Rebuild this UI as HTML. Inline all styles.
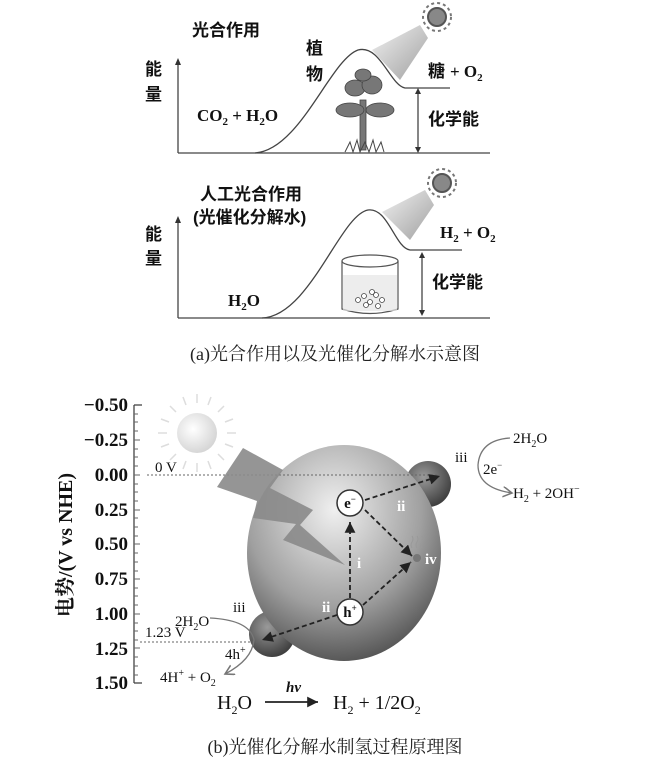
<!DOCTYPE html>
<html><head><meta charset="utf-8"><style>
body{margin:0;background:#fff;}
svg{display:block;font-family:"Liberation Serif","Noto Serif CJK SC",serif;}
.cj{font-family:"Liberation Sans","Noto Sans CJK SC",sans-serif;font-weight:bold;}
</style></head><body>
<svg width="670" height="774" viewBox="0 0 670 774">
<defs>
<radialGradient id="big" cx="0.45" cy="0.3" r="0.75"><stop offset="0" stop-color="#f0f0f0"/><stop offset="0.6" stop-color="#a0a0a0"/><stop offset="1" stop-color="#4a4a4a"/></radialGradient>
<radialGradient id="sm" cx="0.4" cy="0.35" r="0.7"><stop offset="0" stop-color="#9a9a9a"/><stop offset="1" stop-color="#3a3a3a"/></radialGradient>
<radialGradient id="sun" cx="0.4" cy="0.4" r="0.7"><stop offset="0" stop-color="#fff"/><stop offset="1" stop-color="#d0d0d0"/></radialGradient>
<linearGradient id="beam" x1="0" y1="0" x2="1" y2="1"><stop offset="0" stop-color="#eee"/><stop offset="1" stop-color="#888"/></linearGradient>
<marker id="ah" markerWidth="8" markerHeight="8" refX="6" refY="3" orient="auto"><path d="M0,0 L6,3 L0,6 Z" fill="#222"/></marker>
<marker id="ag" markerWidth="10" markerHeight="10" refX="7" refY="4" orient="auto"><path d="M0,0 L7,4 L0,8" fill="none" stroke="#777" stroke-width="1.2"/></marker>
</defs>

<g stroke="#444" fill="none" stroke-width="1.3">
<line x1="178" y1="153" x2="490" y2="153"/>
<line x1="178" y1="153" x2="178" y2="64"/>
<path d="M255,153 C300,150 330,60 358,50 C380,44 390,85 405,88 L450,88"/>
<line x1="418" y1="92" x2="418" y2="149"/>
<line x1="178" y1="318" x2="490" y2="318"/>
<line x1="178" y1="318" x2="178" y2="222"/>
<path d="M262,318 C310,316 340,215 368,210 C388,207 395,248 410,250 L462,250"/>
<line x1="422" y1="256" x2="422" y2="312"/>
</g>
<g fill="#333">
<path d="M178,58 l-3,7 h6z"/><path d="M178,216 l-3,7 h6z"/>
<path d="M418,88 l-3,6 h6z"/><path d="M418,153 l-3,-6 h6z"/>
<path d="M422,252 l-3,6 h6z"/><path d="M422,316 l-3,-6 h6z"/>
</g>
<g stroke="#555" stroke-width="2">
<circle cx="437" cy="17" r="9" fill="#888"/>
<circle cx="442" cy="183" r="9" fill="#888"/>
</g>
<g stroke="#777" stroke-width="2" stroke-dasharray="3 3" fill="none">
<circle cx="437" cy="17" r="14"/><circle cx="442" cy="183" r="14"/>
</g>
<polygon points="372,50 420,25 428,38 400,80" fill="url(#beam)" opacity="0.8"/>
<polygon points="382,212 425,190 434,205 410,240" fill="url(#beam)" opacity="0.8"/>
<g fill="#777" stroke="#444" stroke-width="0.8">
<rect x="360" y="100" width="6" height="50"/>
<ellipse cx="350" cy="110" rx="14" ry="7"/><ellipse cx="380" cy="110" rx="14" ry="7"/>
<ellipse cx="355" cy="88" rx="10" ry="8"/><ellipse cx="372" cy="85" rx="10" ry="9"/>
<ellipse cx="363" cy="75" rx="8" ry="6"/>
</g>
<path d="M345,152 l5,-10 l3,10 l4,-12 l3,12 l5,-10 l4,10 l4,-12 l3,12 l5,-10 l3,10" stroke="#444" fill="none"/>
<g stroke="#555" fill="none" stroke-width="1.2">
<ellipse cx="370" cy="261" rx="28" ry="6"/>
<path d="M342,261 V309 Q370,318 398,309 V261"/>
</g>
<rect x="343" y="275" width="54" height="36" fill="#e6e6e6" opacity="0.7"/>
<g fill="#fff" stroke="#444" stroke-width="0.8">
<circle cx="358" cy="300" r="2.5"/><circle cx="364" cy="296" r="2.5"/><circle cx="370" cy="302" r="2.5"/><circle cx="376" cy="295" r="2.5"/><circle cx="382" cy="300" r="2.5"/><circle cx="366" cy="305" r="2.5"/><circle cx="378" cy="306" r="2.5"/><circle cx="372" cy="292" r="2.5"/>
</g>
<g font-size="17" class="cj" fill="#111">
<text x="192" y="36">光合作用</text>
<text x="306" y="54">植</text><text x="306" y="80">物</text>
<text x="145" y="75">能</text><text x="145" y="100">量</text>
<text x="428" y="125">化学能</text>
<text x="428" y="77">糖</text>
<text x="200" y="200">人工光合作用</text>
<text x="193" y="223">(光催化分解水)</text>
<text x="145" y="240">能</text><text x="145" y="264">量</text>
<text x="432" y="288">化学能</text>
</g>
<g font-size="17" font-weight="bold" fill="#111">
<text x="197" y="121">CO<tspan font-size="11" dy="4">2</tspan><tspan dy="-4"> + H</tspan><tspan font-size="11" dy="4">2</tspan><tspan dy="-4">O</tspan></text>
<text x="450" y="77">+ O<tspan font-size="11" dy="4">2</tspan></text>
<text x="440" y="238">H<tspan font-size="11" dy="4">2</tspan><tspan dy="-4"> + O</tspan><tspan font-size="11" dy="4">2</tspan></text>
<text x="228" y="306">H<tspan font-size="11" dy="4">2</tspan><tspan dy="-4">O</tspan></text>
</g>
<text x="335" y="360" text-anchor="middle" font-size="18" fill="#222">(a)光合作用以及光催化分解水示意图</text>

<g stroke="#444" stroke-width="1.3">
<line x1="134" y1="405" x2="134" y2="683"/>
<line x1="134" y1="405" x2="142" y2="405"/><line x1="134" y1="683" x2="142" y2="683"/>
</g>
<g stroke="#666" stroke-width="1">
<path d="M134,414h4M134,422h4M134,431h4M134,440h6M134,449h4M134,457h4M134,466h4M134,475h6M134,484h4M134,492h4M134,501h4M134,510h6M134,518h4M134,527h4M134,536h4M134,544h6M134,553h4M134,562h4M134,571h4M134,579h6M134,588h4M134,596h4M134,605h4M134,614h6M134,623h4M134,631h4M134,640h4M134,648h6M134,657h4M134,666h4M134,675h4"/>
</g>
<g font-size="19" font-weight="bold" text-anchor="end" fill="#111">
<text x="128" y="411">−0.50</text><text x="128" y="446">−0.25</text><text x="128" y="481">0.00</text>
<text x="128" y="516">0.25</text><text x="128" y="550">0.50</text><text x="128" y="585">0.75</text>
<text x="128" y="620">1.00</text><text x="128" y="655">1.25</text><text x="128" y="689">1.50</text>
</g>
<text transform="translate(72,545) rotate(-90)" text-anchor="middle" font-size="20" font-weight="bold" fill="#111">电势/(V vs NHE)</text>
<g stroke="#ddd" stroke-width="1.5">
<path d="M197,403v-9M197,463v9M167,433h-9M227,433h9M176,412l-6,-6M218,412l6,-6M176,454l-6,6M218,454l6,6M186,405l-3,-8M208,405l3,-8M186,461l-3,8M208,461l3,8M169,422l-8,-3M225,422l8,-3M169,444l-8,3M225,444l8,3"/>
</g>
<circle cx="197" cy="433" r="20" fill="url(#sun)"/>
<circle cx="428" cy="484" r="23" fill="url(#sm)"/>
<circle cx="272" cy="634" r="23" fill="url(#sm)"/>
<ellipse cx="344" cy="553" rx="97" ry="108" fill="url(#big)"/>
<line x1="147" y1="475" x2="440" y2="475" stroke="#666" stroke-dasharray="2 2"/>
<line x1="140" y1="642" x2="262" y2="642" stroke="#666" stroke-dasharray="2 2"/>
<polygon points="243,448 217,487 257,501 253,518 296,524 283,540 345,565 300,525 313,510 270,488 283,470" fill="#8a8a8a" opacity="0.9"/>
<g stroke="#222" stroke-width="1.8" stroke-dasharray="5 3" fill="none" marker-end="url(#ah)">
<line x1="350" y1="598" x2="350" y2="522"/>
<line x1="365" y1="500" x2="440" y2="476"/>
<line x1="365" y1="510" x2="412" y2="556"/>
<line x1="363" y1="605" x2="411" y2="562"/>
<line x1="337" y1="615" x2="262" y2="640"/>
</g>
<circle cx="417" cy="558" r="4" fill="#777"/>
<path d="M412,548q-2,-3 0,-6q2,-3 0,-6M417,548q-2,-3 0,-6q2,-3 0,-6M422,548q-2,-3 0,-6q2,-3 0,-6" stroke="#999" fill="none"/>
<circle cx="350" cy="503" r="13" fill="#fff" stroke="#333" stroke-width="1.5"/>
<circle cx="350" cy="612" r="13" fill="#fff" stroke="#333" stroke-width="1.5"/>
<g font-size="15" font-weight="bold" fill="#111">
<text x="350" y="508" text-anchor="middle">e<tspan font-size="9" dy="-6">−</tspan></text>
<text x="350" y="617" text-anchor="middle">h<tspan font-size="9" dy="-6">+</tspan></text>
</g>
<g font-size="15" font-weight="bold" fill="#fff">
<text x="357" y="568">i</text><text x="397" y="511">ii</text><text x="322" y="612">ii</text><text x="425" y="564">iv</text>
</g>
<path d="M510,438 Q480,440 478,465 Q478,488 512,493" stroke="#777" fill="none" stroke-width="1.3" marker-end="url(#ag)"/>
<path d="M210,618 Q250,620 254,640 Q252,660 225,674" stroke="#777" fill="none" stroke-width="1.3" marker-end="url(#ag)"/>
<g font-size="15" fill="#111">
<text x="155" y="472">0 V</text>
<text x="145" y="637">1.23 V</text>
<text x="455" y="462">iii</text>
<text x="483" y="474">2e<tspan font-size="9" dy="-6">−</tspan></text>
<text x="513" y="443">2H<tspan font-size="10" dy="4">2</tspan><tspan dy="-4">O</tspan></text>
<text x="513" y="498">H<tspan font-size="10" dy="4">2</tspan><tspan dy="-4"> + 2OH</tspan><tspan font-size="10" dy="-6">−</tspan></text>
<text x="233" y="612">iii</text>
<text x="175" y="626">2H<tspan font-size="10" dy="4">2</tspan><tspan dy="-4">O</tspan></text>
<text x="225" y="659">4h<tspan font-size="10" dy="-6">+</tspan></text>
<text x="160" y="682">4H<tspan font-size="10" dy="-6">+</tspan><tspan dy="6"> + O</tspan><tspan font-size="10" dy="4">2</tspan></text>
</g>
<g font-size="20" fill="#111">
<text x="217" y="709">H<tspan font-size="12" dy="5">2</tspan><tspan dy="-5">O</tspan></text>
<text x="333" y="709">H<tspan font-size="12" dy="5">2</tspan><tspan dy="-5"> + 1/2O</tspan><tspan font-size="12" dy="5">2</tspan></text>
<text x="286" y="692" font-size="15" font-weight="bold" font-style="italic">hv</text>
</g>
<line x1="265" y1="702" x2="318" y2="702" stroke="#222" stroke-width="1.8" marker-end="url(#ah)"/>
<text x="335" y="753" text-anchor="middle" font-size="18" fill="#222">(b)光催化分解水制氢过程原理图</text>
</svg>
</body></html>
